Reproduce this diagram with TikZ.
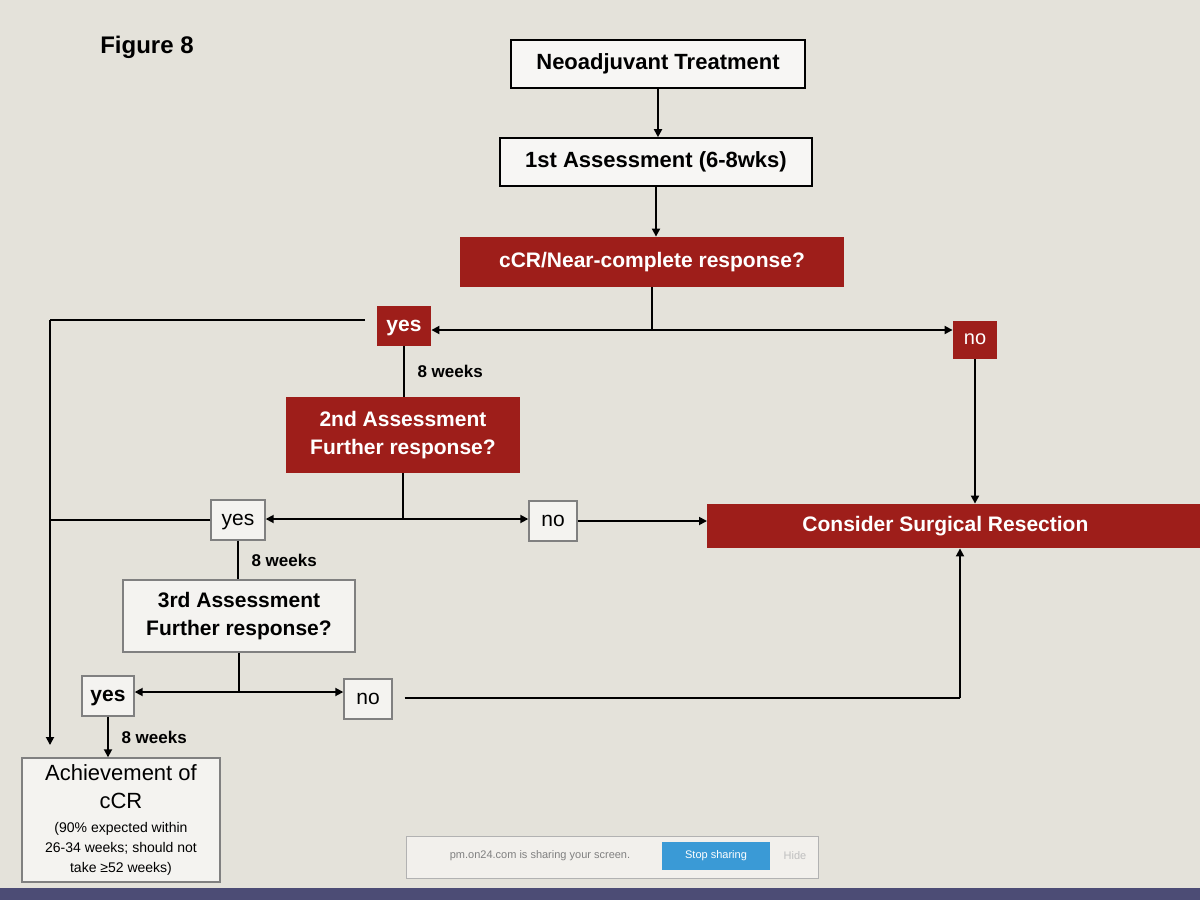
\documentclass[tikz,border=0pt]{standalone}
\usepackage{fontspec}
\setmainfont{Liberation Sans}
\usetikzlibrary{arrows.meta}
\definecolor{bg}{HTML}{E4E2DA}
\definecolor{dred}{HTML}{9E1E1A}
\definecolor{btn}{HTML}{3A9AD6}
\begin{document}
\begin{tikzpicture}[x=0.5pt,y=-0.5pt,
  wbox/.style={draw=black,fill=white!70!bg,line width=0.8pt,inner sep=0pt,align=center,font=\bfseries\fontsize{11}{13}\selectfont},
  gbox/.style={draw=gray,fill=white!60!bg,line width=0.7pt,inner sep=0pt,align=center,font=\fontsize{10.5}{13}\selectfont},
  rbox/.style={fill=dred,text=white,inner sep=0pt,align=center,font=\bfseries\fontsize{10.5}{14}\selectfont},
  ln/.style={line width=0.9pt},
  ar/.style={ln,-{Triangle[length=4pt,width=4pt]}},
  lab/.style={font=\bfseries\fontsize{8.5}{10}\selectfont,anchor=west}]
\fill[bg] (0,0) rectangle (1200,900);
\fill[black!60!blue!40!gray] (0,888) rectangle (1200,900);
\useasboundingbox (0,0) rectangle (1200,900);
\node[font=\bfseries\fontsize{12}{14}\selectfont] (fig) at (147,47) {Figure 8};
\node[wbox,minimum width=147pt,minimum height=24pt] (neo) at (658,64) {\strut Neoadjuvant Treatment};
\node[wbox,minimum width=156pt,minimum height=24pt] (a1) at (656,162) {\strut 1st Assessment (6-8wks)};
\node[rbox,minimum width=192pt,minimum height=25pt] (q1) at (652,262) {\strut cCR/Near-complete response?};
\node[rbox,minimum width=27pt,minimum height=20pt] (y1) at (404,326) {\strut yes};
\node[rbox,minimum width=22pt,minimum height=19pt,font=\fontsize{10}{12}\selectfont] (n1) at (975,340) {\strut no};
\node[rbox,minimum width=117pt,minimum height=38pt] (a2) at (403,435) {2nd Assessment\\Further response?};
\node[gbox,minimum width=27pt,minimum height=20pt] (y2) at (238,520) {\strut yes};
\node[gbox,minimum width=24pt,minimum height=20pt] (n2) at (553,521) {\strut no};
\node[rbox,minimum width=250pt,minimum height=22pt,anchor=west] (sr) at (707,526) {\hspace*{-6pt}\strut Consider Surgical Resection\hspace*{6pt}};
\node[gbox,minimum width=116pt,minimum height=36pt,font=\bfseries\fontsize{10.5}{14}\selectfont] (a3) at (239,616) {3rd Assessment\\Further response?};
\node[gbox,minimum width=26pt,minimum height=20pt,font=\bfseries\fontsize{10.5}{13}\selectfont] (y3) at (108,696) {\strut yes};
\node[gbox,minimum width=24pt,minimum height=20pt] (n3) at (368,699) {\strut no};
\node[gbox,minimum width=99pt,minimum height=62pt,font=\fontsize{11}{14}\selectfont] (ach) at (121,820) {Achievement of\\cCR\\[-2pt]{\fontsize{7}{9}\selectfont (90\% expected within}\\[-4pt]{\fontsize{7}{9}\selectfont 26-34 weeks; should not}\\[-4pt]{\fontsize{7}{9}\selectfont take ≥52 weeks)}};
% connectors
\draw[ar] (neo.south) -- (neo.south|-a1.north);
\draw[ar] (a1.south) -- (a1.south|-q1.north);
\coordinate (j1) at (652,330);
\draw[ln] (q1.south) -- (j1);
\draw[ar] (j1) -- (y1.east|-j1);
\draw[ar] (j1) -- (n1.west|-j1);
\coordinate (L1) at (50,320);
\coordinate (s1) at (365,320);
\coordinate (Lend) at (50,745);
\draw[ln] (s1) -- (L1);
\draw[ar] (L1) -- (Lend);
\draw[ln] (y1.south) -- node[lab,right=3pt]{8 weeks} (y1.south|-a2.north);
\coordinate (j2) at (403,519);
\draw[ln] (a2.south) -- (j2);
\draw[ar] (j2) -- (y2.east|-j2);
\draw[ar] (j2) -- (n2.west|-j2);
\draw[ln] (y2.west) -- (y2.west-|L1);
\draw[ar] (n2.east) -- (n2.east-|sr.west);
\draw[ar] (n1.south) -- (n1.south|-sr.north);
\draw[ln] (y2.south) -- node[lab,right=3pt]{8 weeks} (y2.south|-a3.north);
\coordinate (j3) at (239,692);
\draw[ln] (a3.south) -- (j3);
\draw[ar] (j3) -- (y3.east|-j3);
\draw[ar] (j3) -- (n3.west|-j3);
\coordinate (c3) at (960,698);
\draw[ln] ([xshift=6pt]n3.east|-c3) -- (c3);
\draw[ar] (c3) -- (c3|-sr.south);
\draw[ar] (y3.south) -- node[lab,right=3pt]{8 weeks} (y3.south|-ach.north);
% screen share bar
\node[draw=gray!60,fill=white!50!bg,minimum width=206pt,minimum height=21pt,inner sep=0pt] (bar) at (612,857) {};
\node[font=\fontsize{5.5}{7}\selectfont,text=gray] (bt) at (540,856) {pm.on24.com is sharing your screen.};
\node[fill=btn,text=white,font=\fontsize{5.5}{7}\selectfont,minimum width=54pt,minimum height=14pt,inner sep=0pt] (sb) at (716,856) {Stop sharing};
\node[font=\fontsize{5.5}{7}\selectfont,text=gray!50] (hd) at (795,856) {Hide};
\end{tikzpicture}
\end{document}
